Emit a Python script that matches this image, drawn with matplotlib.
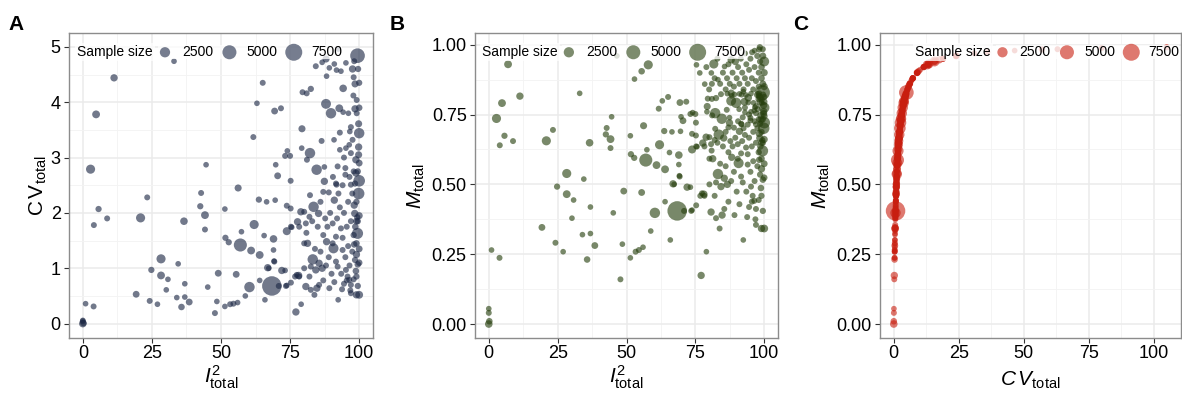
import numpy as np
import matplotlib
matplotlib.use("Agg")
import matplotlib.pyplot as plt

plt.rcParams['font.family'] = 'Liberation Sans'
plt.rcParams['mathtext.fontset'] = 'custom'
plt.rcParams['mathtext.rm'] = 'Liberation Sans'
plt.rcParams['mathtext.it'] = 'Liberation Sans:italic'
plt.rcParams['mathtext.bf'] = 'Liberation Sans:bold'

sparse_i2 = [0, 0.2, 0, 0, 1.0, 3.9, 2.8, 4.8, 11.3, 5.7,
             4.0, 8.8, 20.9, 19.3, 23.3, 24.8, 24.2, 27.0, 28.3, 28.3,
             30.2, 30.8, 34.5, 34.0, 35.7, 36.6, 36.9, 36.9, 38.5, 42.8,
             42.5, 44.2, 44.2, 44.6, 45.2, 47.8, 48.5, 49.0, 51.4, 51.6,
             52.8, 51.4, 53.3, 54.5, 56.0, 55.5, 56.2, 57.0, 57.4, 58.8,
             60.3, 60.9, 62.0, 61.7, 63.0, 63.7, 64.0, 64.0, 65.1, 65.6,
             65.9, 66.5, 66.9, 68.4, 69.0, 69.0, 69.4, 69.6, 69.8, 69.2,
             70.5, 71.7, 72.0, 73.2, 74.0, 75.0, 73.8, 75.2, 75.2, 73.8,
             75.6, 73.2, 73.8, 77.1, 79.0, 76.8, 78.1, 70.9, 67.3, 33.0,
             73.5, 75.3, 69.3]
sparse_cv = [0.00, 0.01, 0.058, 0.042, 0.36, 0.31, 2.79, 3.78, 4.44, 2.07,
             1.78, 1.90, 1.91, 0.53, 2.28, 0.97, 0.41, 0.35, 1.17, 0.87,
             0.61, 0.80, 1.08, 0.47, 0.30, 1.85, 0.72, 0.48, 0.39, 2.36,
             2.12, 1.96, 1.70, 2.87, 0.66, 0.19, 0.40, 0.91, 2.07, 1.55,
             1.47, 0.31, 0.35, 0.36, 0.38, 0.89, 2.45, 1.42, 1.66, 0.50,
             0.66, 1.32, 1.79, 3.37, 3.98, 2.24, 1.24, 0.78, 4.35, 1.59,
             0.43, 2.20, 1.01, 0.68, 1.53, 1.33, 3.84, 2.23, 2.87, 1.13,
             2.67, 3.89, 0.96, 3.03, 3.12, 3.03, 2.13, 2.08, 2.58, 1.67,
             1.74, 0.96, 0.69, 0.21, 0.35, 0.85, 0.87, 0.68, 1.00, 4.74,
             0.68, 0.74, 1.12]
sparse_m = [0.00, 0.01, 0.055, 0.040, 0.265, 0.237, 0.736, 0.791, 0.816, 0.674,
            0.640, 0.655, 0.656, 0.346, 0.695, 0.492, 0.291, 0.259, 0.539, 0.465,
            0.379, 0.444, 0.519, 0.320, 0.231, 0.649, 0.419, 0.324, 0.281, 0.702,
            0.679, 0.662, 0.630, 0.742, 0.398, 0.160, 0.286, 0.476, 0.674, 0.608,
            0.595, 0.237, 0.259, 0.265, 0.275, 0.471, 0.710, 0.587, 0.624, 0.333,
            0.398, 0.569, 0.642, 0.771, 0.799, 0.691, 0.554, 0.438, 0.813, 0.614,
            0.301, 0.688, 0.502, 0.405, 0.605, 0.571, 0.793, 0.690, 0.742, 0.531,
            0.728, 0.796, 0.490, 0.752, 0.757, 0.752, 0.681, 0.675, 0.721, 0.625,
            0.635, 0.490, 0.408, 0.174, 0.259, 0.459, 0.465, 0.405, 0.500, 0.826,
            0.405, 0.425, 0.528]
sparse_n = [1200, 800, 500, 600, 500, 600, 1900, 1300, 1100, 700,
            600, 600, 1900, 900, 600, 700, 600, 500, 1900, 1300,
            500, 500, 500, 500, 800, 1200, 500, 500, 900, 600,
            700, 1300, 600, 500, 500, 600, 500, 900, 500, 700,
            700, 500, 600, 600, 500, 900, 1000, 4300, 500, 500,
            2600, 1300, 1900, 600, 500, 700, 1300, 500, 600, 500,
            500, 500, 1100, 10000, 1200, 500, 900, 500, 500, 500,
            900, 600, 1100, 600, 500, 600, 600, 600, 600, 1400,
            500, 500, 500, 1100, 500, 600, 1100, 600, 500, 500,
            600, 600, 600]

# dense cluster at high I2, CV up to 5
dense_i2 = [92.4, 88.0, 86.6, 84.3, 91.0, 95.2, 98.2, 97.6, 91.8, 93.4,
            89.2, 88.2, 98.5, 94.2, 97.9, 99.1, 79.5, 81.0, 82.5, 88.0,
            89.8, 92.8, 94.2, 96.1, 98.5, 99.1, 79.3, 99.8, 100, 96.6,
            86.4, 90.9, 97.6, 95.2, 93.0, 96.4, 99.8, 79.2, 82.2, 81.1,
            97.0, 98.8, 99.8, 84.6, 87.4, 92.2, 95.0, 95.0, 98.8, 100,
            87.4, 91.8, 97.0, 99.4,
            82.2, 87.0, 89.0, 83.5, 91.0, 91.6, 94.0, 99.8, 98.5, 98.2,
            98.4, 99.0, 98.6, 99.3, 99.4, 98.2, 99.0, 99.5, 98.8, 100,
            94.5, 95.5, 95.8, 92.4, 85.3, 80.1, 78.9, 77.7, 82.0, 80.7,
            75.3, 78.3, 80.9, 81.3, 80.1, 87.7, 88.5, 88.2, 90.4, 90.4,
            91.6, 93.4, 94.0, 90.7, 83.2, 85.5, 84.3, 86.6, 82.5, 80.1,
            78.3, 77.4, 80.7, 82.5, 84.7, 83.8, 89.2, 91.6, 92.2, 95.2,
            96.4, 97.0, 99.0]
dense_cv = [4.96, 4.78, 4.72, 4.65, 4.69, 4.71, 4.74, 4.60, 4.58, 4.56,
            4.62, 4.47, 4.33, 4.25, 4.12, 4.04, 4.18, 4.16, 4.24, 3.97,
            3.80, 3.89, 3.82, 3.80, 3.88, 3.80, 3.52, 3.61, 3.44, 3.47,
            3.30, 3.32, 3.32, 3.17, 3.14, 3.23, 3.19, 3.17, 3.08, 2.96,
            3.08, 2.96, 3.05, 2.78, 2.83, 2.84, 2.81, 2.69, 2.72, 2.58,
            2.57, 2.51, 2.51, 4.84,
            2.32, 2.38, 2.37, 2.11, 2.23, 2.53, 2.50, 2.35, 2.53, 2.14,
            1.99, 1.85, 1.75, 1.92, 1.63, 1.43, 1.25, 1.07, 0.95, 0.52,
            0.72, 0.78, 0.85, 0.43, 1.99, 2.02, 2.02, 1.84, 1.93, 1.81,
            1.75, 1.75, 1.64, 1.45, 1.45, 1.90, 1.75, 1.48, 1.81, 1.45,
            1.57, 1.72, 1.33, 1.36, 1.16, 1.09, 0.97, 1.00, 1.03, 1.00,
            0.85, 0.88, 0.67, 0.61, 0.64, 0.52, 0.64, 1.12, 1.03, 0.97,
            0.79, 0.55, 0.52]
dense_m = [0.832, 0.827, 0.825, 0.823, 0.824, 0.825, 0.826, 0.821, 0.821, 0.820,
           0.822, 0.817, 0.812, 0.810, 0.805, 0.802, 0.807, 0.806, 0.809, 0.799,
           0.792, 0.796, 0.793, 0.792, 0.795, 0.792, 0.779, 0.783, 0.775, 0.776,
           0.767, 0.769, 0.769, 0.760, 0.758, 0.764, 0.761, 0.760, 0.755, 0.747,
           0.755, 0.747, 0.753, 0.735, 0.739, 0.740, 0.738, 0.729, 0.731, 0.721,
           0.720, 0.715, 0.715, 0.829,
           0.699, 0.704, 0.703, 0.678, 0.690, 0.717, 0.714, 0.701, 0.717, 0.682,
           0.666, 0.649, 0.636, 0.658, 0.620, 0.588, 0.556, 0.517, 0.487, 0.342,
           0.419, 0.438, 0.459, 0.301, 0.666, 0.669, 0.669, 0.648, 0.659, 0.644,
           0.636, 0.636, 0.621, 0.592, 0.592, 0.655, 0.636, 0.597, 0.644, 0.592,
           0.611, 0.632, 0.571, 0.576, 0.537, 0.522, 0.492, 0.500, 0.507, 0.500,
           0.459, 0.468, 0.401, 0.379, 0.390, 0.342, 0.390, 0.528, 0.507, 0.492,
           0.441, 0.355, 0.342]
dense_n = [500, 1000, 500, 600, 500, 500, 600, 1100, 500, 500,
           500, 500, 1000, 1200, 600, 600, 600, 600, 700, 2300,
           2600, 1300, 500, 500, 1100, 600, 1000, 1000, 2600, 500,
           600, 500, 600, 500, 500, 500, 1100, 500, 2600, 600,
           600, 1100, 1000, 2600, 500, 600, 600, 600, 1100, 3300,
           1100, 600, 600, 5500,
           600, 600, 600, 2600, 1100, 600, 600, 3300, 700, 1100,
           1100, 900, 800, 700, 3000, 800, 1100, 800, 800, 1300,
           600, 600, 600, 500, 1100, 600, 1100, 1100, 600, 600,
           600, 600, 600, 1100, 600, 600, 600, 1100, 600, 600,
           600, 600, 600, 2400, 2600, 1100, 1100, 1100, 600, 600,
           600, 600, 1100, 600, 1100, 600, 600, 600, 600, 600,
           600, 600, 1100]

# more studies packed into the I2 ~ 85-100 column
column_i2 = [86, 87, 89, 90, 91, 92, 93, 93.5, 94, 94.5,
             95, 95.5, 96, 96, 96.5, 97, 97, 97.5, 97.5, 98,
             98, 98, 98.5, 99, 99, 99, 99.5, 99.5, 99.5, 100,
             100, 100, 100, 100, 100, 85, 86, 84, 83, 82,
             85.5, 87, 88, 89.5, 90.5, 92.5, 93, 94.5, 96.5, 97,
             98, 99.6, 96.8, 93.8]
column_cv = [1.3, 1.6, 1.2, 0.9, 0.75, 1.9, 2.1, 0.9, 1.55, 2.0,
             1.2, 1.75, 2.2, 1.4, 1.05, 1.85, 0.7, 1.3, 2.35, 1.6,
             0.8, 2.75, 1.15, 2.2, 1.45, 0.85, 2.75, 1.85, 0.68, 1.95,
             1.35, 1.1, 2.9, 3.9, 4.35, 1.75, 2.2, 1.35, 1.85, 0.85,
             0.7, 0.78, 1.05, 2.0, 2.65, 2.35, 3.45, 3.0, 2.65, 3.55,
             4.45, 4.6, 0.6, 0.62]
column_m = [0.565, 0.615, 0.545, 0.474, 0.429, 0.655, 0.677, 0.474, 0.608, 0.667,
            0.545, 0.636, 0.688, 0.583, 0.512, 0.649, 0.412, 0.565, 0.701, 0.615,
            0.444, 0.733, 0.535, 0.688, 0.592, 0.459, 0.733, 0.649, 0.405, 0.661,
            0.574, 0.524, 0.744, 0.796, 0.813, 0.636, 0.688, 0.574, 0.649, 0.459,
            0.412, 0.438, 0.512, 0.667, 0.726, 0.701, 0.775, 0.750, 0.726, 0.780,
            0.817, 0.821, 0.375, 0.383]
column_n = [600, 600, 600, 600, 600, 600, 600, 600, 600, 600,
            600, 600, 600, 600, 600, 600, 600, 600, 600, 700,
            600, 600, 700, 700, 800, 700, 700, 700, 700, 1000,
            900, 800, 900, 800, 700, 600, 600, 600, 600, 600,
            600, 600, 600, 600, 600, 600, 600, 600, 600, 600,
            600, 700, 600, 600]

# CV above 5 (only in panels B and C)
high_i2 = [7, 46.5, 52.9, 55.5, 57.9, 75.4, 76.6, 78.4, 81.7, 80.8,
           83.2, 85.6, 88, 91, 93, 95.6, 98.2, 98.4, 96.5, 99.5,
           84, 85, 86, 86.5, 87, 87.5, 88.5, 89, 89.5, 90,
           90.5, 91, 91.5, 92, 92.5, 93, 93.5, 94, 94.5, 95,
           95.5, 96, 96.5, 97, 97.5, 98, 98, 98.5, 99, 99,
           99.5, 99.5, 100, 100, 100, 80, 82, 83, 79, 81]
high_cv = [13.3, 24, 7.1, 9.5, 12.9, 12.9, 8.9, 6.1, 13.5, 8.9,
           7.0, 11.8, 17.5, 80, 31, 36, 57, 105, 46.5, 63,
           6.14, 9.0, 5.25, 7.33, 13.3, 6.14, 9.0, 5.67, 15.7, 7.33,
           11.5, 6.14, 19, 9.0, 5.25, 7.33, 13.3, 6.14, 10.1, 19,
           7.33, 5.25, 11.5, 6.69, 24, 9.0, 5.67, 15.7, 7.33, 11.5,
           6.14, 24, 9.0, 15.7, 5.67, 5.25, 7.33, 19, 11.5, 6.14]
high_m = [0.930, 0.960, 0.877, 0.905, 0.928, 0.928, 0.899, 0.859, 0.931, 0.899,
          0.875, 0.922, 0.946, 0.988, 0.969, 0.973, 0.983, 0.991, 0.979, 0.984,
          0.86, 0.90, 0.84, 0.88, 0.93, 0.86, 0.90, 0.85, 0.94, 0.88,
          0.92, 0.86, 0.95, 0.90, 0.84, 0.88, 0.93, 0.86, 0.91, 0.95,
          0.88, 0.84, 0.92, 0.87, 0.96, 0.90, 0.85, 0.94, 0.88, 0.92,
          0.86, 0.96, 0.90, 0.94, 0.85, 0.84, 0.88, 0.95, 0.92, 0.86]
high_n = [1300, 500, 500, 800, 1900, 500, 500, 500, 1900, 500,
          500, 500, 1100, 600, 600, 600, 700, 700, 500, 600,
          600, 600, 600, 600, 600, 600, 600, 600, 1100, 600,
          600, 600, 600, 600, 600, 600, 600, 600, 600, 600,
          600, 600, 600, 600, 700, 600, 600, 700, 800, 800,
          900, 900, 1000, 2300, 1000, 600, 600, 600, 600, 600]

legend_sizes = [2500, 5000, 7500]

i2 = np.array(sparse_i2 + dense_i2 + column_i2 + high_i2)
cv = np.array(sparse_cv + dense_cv + column_cv + high_cv)
mt = np.array(sparse_m + dense_m + column_m + high_m)
n = np.array(sparse_n + dense_n + column_n + high_n)


def size_of(v):
    return 7.0 + 0.019 * np.asarray(v, dtype=float)


def style_axes(ax, xlim, ylim, xticks, yticks, ylabels=None):
    ax.set_xlim(xlim)
    ax.set_ylim(ylim)
    ax.set_xticks(xticks)
    ax.set_yticks(yticks)
    if ylabels is not None:
        ax.set_yticklabels(ylabels)
    ax.set_xticks([(a + b) / 2 for a, b in zip(xticks[:-1], xticks[1:])], minor=True)
    ax.set_yticks([(a + b) / 2 for a, b in zip(yticks[:-1], yticks[1:])], minor=True)
    ax.set_axisbelow(True)
    ax.grid(which='major', color='#ebebeb', lw=1.1)
    ax.grid(which='minor', color='#f3f3f3', lw=0.6)
    ax.tick_params(which='minor', length=0)
    ax.tick_params(which='major', direction='out', length=3.5, width=0.8,
                   color='#333333', labelsize=13, labelcolor='black')
    ax.tick_params(axis='x', pad=1.5)
    ax.tick_params(axis='y', pad=2.5)
    for s in ax.spines.values():
        s.set_color('#8c8c8c')
        s.set_linewidth(1.0)


def add_size_legend(ax, color, text_x, handle_x):
    ax.text(text_x, 0.938, 'Sample size', transform=ax.transAxes, fontsize=10,
            va='center', ha='left', zorder=6,
            bbox=dict(facecolor='white', edgecolor='none', pad=1.5, alpha=0.75))
    handles = [ax.scatter([], [], s=size_of(v), color=color, alpha=0.6,
                          edgecolors='none') for v in legend_sizes]
    ax.legend(handles, [str(v) for v in legend_sizes], ncol=3, loc='center left',
              bbox_to_anchor=(handle_x, 0.938), frameon=True, framealpha=0.75,
              facecolor='white', edgecolor='none', fancybox=False, fontsize=10,
              handlelength=0.95, handletextpad=0.75, columnspacing=0.7,
              borderpad=0.0, borderaxespad=0, scatterpoints=1)


fig = plt.figure(figsize=(11.82, 3.96), dpi=100)
axA = fig.add_axes([69 / 1182, 58 / 396, 304 / 1182, 305 / 396])
axB = fig.add_axes([475 / 1182, 58 / 396, 303 / 1182, 305 / 396])
axC = fig.add_axes([880 / 1182, 58 / 396, 301 / 1182, 305 / 396])

col_a = '#1b2744'
col_b = '#263f0d'
col_c = '#c81e0f'

# A: CV vs I2 (CV limited to 0-5)
keep = cv <= 5
axA.scatter(i2[keep], cv[keep], s=size_of(n[keep]), color=col_a, alpha=0.62,
            edgecolors='none', zorder=3)
style_axes(axA, (-5, 105), (-0.26, 5.25), [0, 25, 50, 75, 100], [0, 1, 2, 3, 4, 5])
axA.set_xlabel(r'$I^{2}_{\mathrm{total}}$', fontsize=15)
axA.set_ylabel(r'$\mathrm{C\,V}_{\mathrm{total}}$', fontsize=15)
axA.xaxis.set_label_coords(0.5, -0.085)
axA.yaxis.set_label_coords(-0.065, 0.5)
add_size_legend(axA, col_a, 0.026, 0.294)

# B: M vs I2
axB.scatter(i2, mt, s=size_of(n), color=col_b, alpha=0.62, edgecolors='none', zorder=3)
style_axes(axB, (-5, 105), (-0.05, 1.042), [0, 25, 50, 75, 100],
           [0, 0.25, 0.5, 0.75, 1.0], ['0.00', '0.25', '0.50', '0.75', '1.00'])
axB.set_xlabel(r'$I^{2}_{\mathrm{total}}$', fontsize=15)
axB.set_ylabel(r'$M_{\mathrm{total}}$', fontsize=15)
axB.xaxis.set_label_coords(0.5, -0.085)
axB.yaxis.set_label_coords(-0.16, 0.5)
add_size_legend(axB, col_b, 0.023, 0.288)

# C: M vs CV
axC.scatter(cv, mt, s=size_of(n), color=col_c, alpha=0.6, edgecolors='none', zorder=3)
style_axes(axC, (-5.3, 110.5), (-0.05, 1.042), [0, 25, 50, 75, 100],
           [0, 0.25, 0.5, 0.75, 1.0], ['0.00', '0.25', '0.50', '0.75', '1.00'])
axC.set_xlabel(r'$C\,V_{\mathrm{total}}$', fontsize=15)
axC.set_ylabel(r'$M_{\mathrm{total}}$', fontsize=15)
axC.xaxis.set_label_coords(0.5, -0.105)
axC.yaxis.set_label_coords(-0.16, 0.5)
add_size_legend(axC, col_c, 0.116, 0.385)

for x, letter in [(0.007, 'A'), (0.330, 'B'), (0.671, 'C')]:
    fig.text(x, 0.937, letter, fontsize=15, fontweight='bold', va='center', ha='left')

fig.savefig('out.png', dpi=100)
